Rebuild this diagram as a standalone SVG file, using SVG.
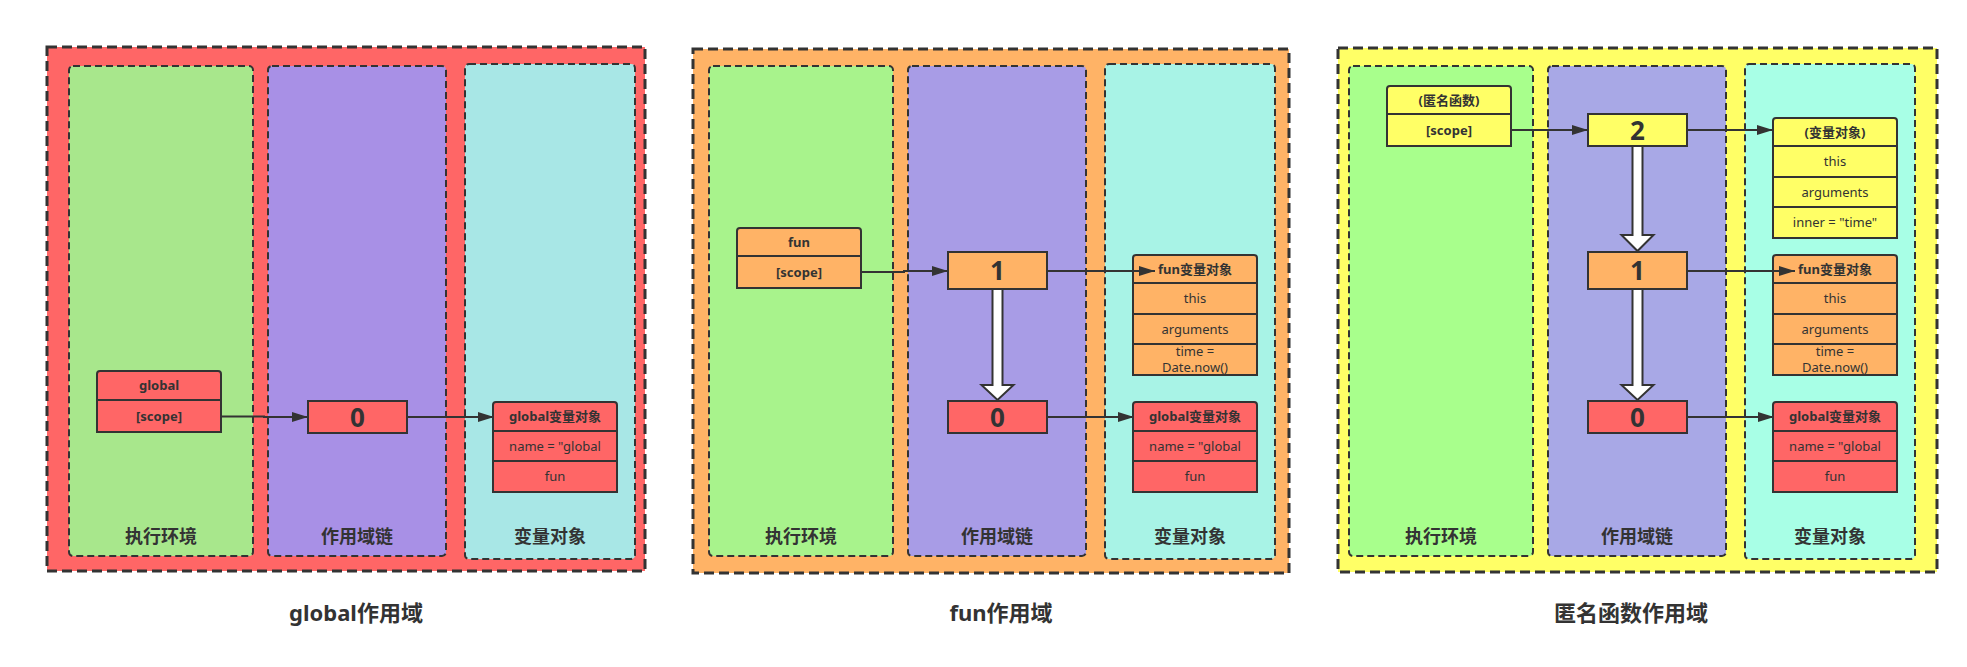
<svg xmlns="http://www.w3.org/2000/svg" width="1967" height="667" viewBox="0 0 1967 667">
<defs>
<style>
text{font-family:"Noto Sans","Noto Sans CJK SC",sans-serif;fill:#333;text-anchor:middle}
.panel{stroke:#333;stroke-width:3;stroke-dasharray:10 5}
.lane{stroke:#333;stroke-width:2;stroke-dasharray:7 4}
.box{stroke:#333;stroke-width:2}
.div{stroke:#333;stroke-width:2;fill:none}
.lbl{font-size:18px;font-weight:bold}
.title{font-size:22px;font-weight:bold}
.hd{font-size:13px;font-weight:bold}
.row{font-size:13px}
.num{font-size:26px;font-weight:bold}
.red{fill:#FF6666}
.org{fill:#FFB366}
.yel{fill:#FFFF66}
.edge{stroke:#333;stroke-width:2;fill:none;marker-end:url(#ah)}
.hollow{fill:#fff;stroke:#333;stroke-width:2}
</style>
<marker id="ah" markerWidth="16" markerHeight="10" refX="16" refY="5" orient="auto" markerUnits="userSpaceOnUse"><path d="M0,0 L16,5 L0,10 z" fill="#333"/></marker>
</defs>

<!-- Panel 1 -->
<g id="panel-global">
<rect class="panel red" x="47" y="47" width="598" height="524"/>
<rect class="lane" x="69" y="66" width="184" height="490" rx="4" fill="#A8E78C"/>
<rect class="lane" x="268" y="66" width="178" height="490" rx="4" fill="#A890E6"/>
<rect class="lane" x="465" y="64" width="170" height="495" rx="4" fill="#A8E7E6"/>
<text class="lbl" x="161" y="543">执行环境</text>
<text class="lbl" x="357" y="543">作用域链</text>
<text class="lbl" x="550" y="543">变量对象</text>
</g>

<!-- Panel 2 -->
<g id="panel-fun">
<rect class="panel org" x="693" y="49" width="596" height="524"/>
<rect class="lane" x="709" y="66" width="184" height="490" rx="4" fill="#A8F38C"/>
<rect class="lane" x="908" y="66" width="178" height="490" rx="4" fill="#A89CE6"/>
<rect class="lane" x="1105" y="64" width="170" height="495" rx="4" fill="#A8F3E6"/>
<text class="lbl" x="801" y="543">执行环境</text>
<text class="lbl" x="997" y="543">作用域链</text>
<text class="lbl" x="1190" y="543">变量对象</text>
</g>

<!-- Panel 3 -->
<g id="panel-anon">
<rect class="panel yel" x="1338" y="48" width="599" height="524"/>
<rect class="lane" x="1349" y="66" width="184" height="490" rx="4" fill="#A8FF8C"/>
<rect class="lane" x="1548" y="66" width="178" height="490" rx="4" fill="#A8A8E6"/>
<rect class="lane" x="1745" y="64" width="170" height="495" rx="4" fill="#A8FFE6"/>
<text class="lbl" x="1441" y="543">执行环境</text>
<text class="lbl" x="1637" y="543">作用域链</text>
<text class="lbl" x="1830" y="543">变量对象</text>
</g>

<g id="titles">
<text class="title" x="356" y="621">global作用域</text>
<text class="title" x="1001" y="621">fun作用域</text>
<text class="title" x="1631" y="621">匿名函数作用域</text>
</g>

<!-- Panel 1 nodes -->
<g id="p1-global-ctx">
<path class="box red" d="M97,432 L97,374 Q97,371 100,371 L218,371 Q221,371 221,374 L221,432 Z"/>
<line class="div" x1="97" y1="400" x2="221" y2="400"/>
<text class="hd" x="159" y="390">global</text>
<text class="hd" x="159" y="421">[scope]</text>
</g>
<g id="p1-chain0">
<rect class="box red" x="308" y="401" width="99" height="32"/>
<text class="num" x="357.5" y="426.5">0</text>
</g>
<g id="p1-global-vo">
<path class="box red" d="M493,492 L493,405 Q493,402 496,402 L614,402 Q617,402 617,405 L617,492 Z"/>
<line class="div" x1="493" y1="431" x2="617" y2="431"/>
<line class="div" x1="493" y1="461" x2="617" y2="461"/>
<text class="hd" x="555" y="421">global变量对象</text>
<text class="row" x="555" y="450.5">name = "global</text>
<text class="row" x="555" y="481">fun</text>
</g>

<!-- Panel 2 nodes -->
<g id="p2-fun-ctx">
<path class="box org" d="M737,288 L737,231 Q737,228 740,228 L858,228 Q861,228 861,231 L861,288 Z"/>
<line class="div" x1="737" y1="256" x2="861" y2="256"/>
<text class="hd" x="799" y="247">fun</text>
<text class="hd" x="799" y="277">[scope]</text>
</g>
<g id="p2-chain1">
<rect class="box org" x="948" y="252" width="99" height="37"/>
<text class="num" x="997.5" y="280">1</text>
</g>
<g id="p2-chain0">
<rect class="box red" x="948" y="401" width="99" height="32"/>
<text class="num" x="997.5" y="426.5">0</text>
</g>
<g id="p2-fun-vo">
<path class="box org" d="M1133,375 L1133,258 Q1133,255 1136,255 L1254,255 Q1257,255 1257,258 L1257,375 Z"/>
<line class="div" x1="1133" y1="283" x2="1257" y2="283"/>
<line class="div" x1="1133" y1="314" x2="1257" y2="314"/>
<line class="div" x1="1133" y1="344" x2="1257" y2="344"/>
<text class="hd" x="1195" y="273.5">fun变量对象</text>
<text class="row" x="1195" y="303">this</text>
<text class="row" x="1195" y="333.5">arguments</text>
<text class="row" x="1195" y="356">time =</text>
<text class="row" x="1195" y="372">Date.now()</text>
</g>
<g id="p2-global-vo">
<path class="box red" d="M1133,492 L1133,405 Q1133,402 1136,402 L1254,402 Q1257,402 1257,405 L1257,492 Z"/>
<line class="div" x1="1133" y1="431" x2="1257" y2="431"/>
<line class="div" x1="1133" y1="461" x2="1257" y2="461"/>
<text class="hd" x="1195" y="421">global变量对象</text>
<text class="row" x="1195" y="450.5">name = "global</text>
<text class="row" x="1195" y="481">fun</text>
</g>

<!-- Panel 3 nodes -->
<g id="p3-anon-ctx">
<path class="box yel" d="M1387,146 L1387,89 Q1387,86 1390,86 L1508,86 Q1511,86 1511,89 L1511,146 Z"/>
<line class="div" x1="1387" y1="114" x2="1511" y2="114"/>
<text class="hd" x="1449" y="104.5">(匿名函数)</text>
<text class="hd" x="1449" y="134.5">[scope]</text>
</g>
<g id="p3-chain2">
<rect class="box yel" x="1588" y="114" width="99" height="32"/>
<text class="num" x="1637.5" y="139.5">2</text>
</g>
<g id="p3-chain1">
<rect class="box org" x="1588" y="252" width="99" height="37"/>
<text class="num" x="1637.5" y="280">1</text>
</g>
<g id="p3-chain0">
<rect class="box red" x="1588" y="401" width="99" height="32"/>
<text class="num" x="1637.5" y="426.5">0</text>
</g>
<g id="p3-anon-vo">
<path class="box yel" d="M1773,238 L1773,121 Q1773,118 1776,118 L1894,118 Q1897,118 1897,121 L1897,238 Z"/>
<line class="div" x1="1773" y1="146" x2="1897" y2="146"/>
<line class="div" x1="1773" y1="177" x2="1897" y2="177"/>
<line class="div" x1="1773" y1="207" x2="1897" y2="207"/>
<text class="hd" x="1835" y="136.5">(变量对象)</text>
<text class="row" x="1835" y="166">this</text>
<text class="row" x="1835" y="196.5">arguments</text>
<text class="row" x="1835" y="227">inner = "time"</text>
</g>
<g id="p3-fun-vo">
<path class="box org" d="M1773,375 L1773,258 Q1773,255 1776,255 L1894,255 Q1897,255 1897,258 L1897,375 Z"/>
<line class="div" x1="1773" y1="283" x2="1897" y2="283"/>
<line class="div" x1="1773" y1="314" x2="1897" y2="314"/>
<line class="div" x1="1773" y1="344" x2="1897" y2="344"/>
<text class="hd" x="1835" y="273.5">fun变量对象</text>
<text class="row" x="1835" y="303">this</text>
<text class="row" x="1835" y="333.5">arguments</text>
<text class="row" x="1835" y="356">time =</text>
<text class="row" x="1835" y="372">Date.now()</text>
</g>
<g id="p3-global-vo">
<path class="box red" d="M1773,492 L1773,405 Q1773,402 1776,402 L1894,402 Q1897,402 1897,405 L1897,492 Z"/>
<line class="div" x1="1773" y1="431" x2="1897" y2="431"/>
<line class="div" x1="1773" y1="461" x2="1897" y2="461"/>
<text class="hd" x="1835" y="421">global变量对象</text>
<text class="row" x="1835" y="450.5">name = "global</text>
<text class="row" x="1835" y="481">fun</text>
</g>

<!-- Connectors -->
<g id="connectors">
<path class="edge" d="M221,416.5 L264,416.5 L264,417 L308,417"/>
<path class="edge" d="M407,417 L494,417"/>
<path class="edge" d="M861,272 L904,272 L904,271 L948,271"/>
<path class="edge" d="M1047,271 L1155,271"/>
<path class="edge" d="M1047,417 L1134,417"/>
<path class="edge" d="M1511,130 L1588,130"/>
<path class="edge" d="M1687,130 L1773,130"/>
<path class="edge" d="M1687,271 L1795,271"/>
<path class="edge" d="M1687,417 L1774,417"/>
<path class="hollow" d="M992.5,289 L992.5,385 L981.5,385 L997.5,400 L1013.5,385 L1002.5,385 L1002.5,289 Z"/>
<path class="hollow" d="M1632.5,146 L1632.5,235 L1621.5,235 L1637.5,251 L1653.5,235 L1642.5,235 L1642.5,146 Z"/>
<path class="hollow" d="M1632.5,289 L1632.5,385 L1621.5,385 L1637.5,400 L1653.5,385 L1642.5,385 L1642.5,289 Z"/>
</g>
</svg>
